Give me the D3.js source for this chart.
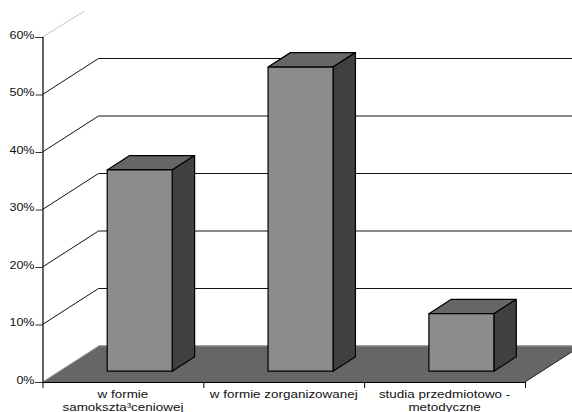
<!DOCTYPE html>
<html>
<head>
<meta charset="utf-8">
<script src="https://cdn.jsdelivr.net/npm/d3@7"></script>
<style>
html,body{margin:0;padding:0;background:#fff;overflow:hidden}
svg{display:block}
text{font-family:"Liberation Sans",Arial,sans-serif;fill:#111}
</style>
</head>
<body>
<svg id="chart" width="572" height="412"></svg>
<script>
const categories = [
  ["w formie", "samokszta\u00b3ceniowej"],
  ["w formie zorganizowanej"],
  ["studia przedmiotowo -", "metodyczne"]
];
const values = [35, 52.9, 10];
const yTicks = [0, 10, 20, 30, 40, 50, 60];
const gridTicks = [10, 20, 30, 40, 50];

const svg = d3.select("#chart");
const x = d3.scaleBand().domain(d3.range(categories.length)).range([42.5, 525]);
const y = d3.scaleLinear().domain([0, 60]).range([382, 37]);
const right = 572;

// Oblique projection: depth 0..1 runs from the front of the floor to the back wall
const depthX = 56, depthY = -36;
const barFront = 0.3, barBack = 0.7, barWidth = 65;
const px = (vx, d) => vx + d * depthX;
const py = (v, d) => y(v) + d * depthY;
const poly = pts => "M" + pts.map(p => p.join(",")).join("L") + "Z";

// Floor, cut off by the right edge of the drawing
const floorEdgeY = py(0, 0) + (right - px(x.range()[1], 0)) * depthY / depthX;
svg.append("path")
  .attr("d", poly([[px(x.range()[0], 0), py(0, 0)], [px(x.range()[0], 1), py(0, 1)],
                   [right, py(0, 1)], [right, floorEdgeY], [px(x.range()[1], 0), py(0, 0)]]))
  .attr("fill", "#666");
svg.append("line")
  .attr("x1", px(x.range()[0], 1)).attr("x2", right)
  .attr("y1", py(0, 1)).attr("y2", py(0, 1))
  .attr("stroke", "#808080").attr("stroke-width", 1.5);
svg.append("line")
  .attr("x1", px(x.range()[0], 0)).attr("y1", py(0, 0))
  .attr("x2", px(x.range()[0], 1)).attr("y2", py(0, 1))
  .attr("stroke", "#aaa");
svg.append("line")
  .attr("x1", px(x.range()[1], 0)).attr("y1", py(0, 0))
  .attr("x2", right).attr("y2", floorEdgeY)
  .attr("stroke", "#222");

// Gridlines on the side and back walls
const grid = svg.append("g").attr("fill", "none").attr("stroke", "#111");
grid.selectAll("path").data(gridTicks).join("path")
  .attr("d", d => `M${px(x.range()[0], 0)},${py(d, 0)}L${px(x.range()[0], 1)},${py(d, 1)}L${right},${py(d, 1)}`);
svg.append("line")
  .attr("x1", px(x.range()[0], 0)).attr("y1", py(60, 0))
  .attr("x2", px(x.range()[0], 0.75)).attr("y2", py(60, 0.72))
  .attr("stroke", "#c4c4c4");

// Bars: front, top and side faces
const bars = svg.append("g").attr("stroke", "#000").attr("stroke-width", 1.2).attr("stroke-linejoin", "round")
  .selectAll("g").data(values).join("g");
const left = (d, i) => x(i) + x.bandwidth() / 2 + barFront * depthX - barWidth / 2;
bars.append("path").attr("fill", "#666").attr("d", (d, i) => {
  const l = left(d, i), dx = (barBack - barFront) * depthX, dy = (barBack - barFront) * depthY, t = py(d, barFront);
  return poly([[l, t], [l + dx, t + dy], [l + barWidth + dx, t + dy], [l + barWidth, t]]);
});
bars.append("path").attr("fill", "#404040").attr("d", (d, i) => {
  const r = left(d, i) + barWidth, dx = (barBack - barFront) * depthX, dy = (barBack - barFront) * depthY;
  const t = py(d, barFront), b = py(0, barFront);
  return poly([[r, t], [r + dx, t + dy], [r + dx, b + dy], [r, b]]);
});
bars.append("path").attr("fill", "#8c8c8c").attr("d", (d, i) => {
  const l = left(d, i), t = py(d, barFront), b = py(0, barFront);
  return poly([[l, t], [l + barWidth, t], [l + barWidth, b], [l, b]]);
});

// Value axis; labels sit slightly above their ticks and run wide
const yAxis = svg.append("g").attr("transform", "translate(42.5,0)")
  .call(d3.axisLeft(y).tickValues(yTicks).tickFormat(d => d + "%").tickSize(7).tickPadding(0));
yAxis.select(".domain").attr("stroke", "#000").attr("stroke-width", 1.2);
yAxis.selectAll(".tick line").attr("stroke", "#333");
yAxis.selectAll("text")
  .attr("font-size", 11)
  .attr("font-family", '"Liberation Sans",Arial,sans-serif')
  .attr("fill", "#111")
  .attr("x", 0).attr("dy", 0)
  .attr("transform", "translate(-8,1) scale(1.14,1)");

// Category axis with ticks on the band boundaries
const edges = d3.range(categories.length + 1).map(i => i < categories.length ? x(i) : x.range()[1]);
const xLine = svg.append("g").attr("transform", `translate(0,${y(0)})`)
  .call(d3.axisBottom(d3.scaleLinear().domain([edges[0], edges[3]]).range([edges[0], edges[3]]))
    .tickValues(edges).tickFormat("").tickSize(6).tickSizeOuter(0));
xLine.select(".domain").attr("stroke", "#000").attr("stroke-width", 1.2);
xLine.selectAll(".tick line").attr("stroke", "#000");

const labels = svg.append("g").attr("font-size", 11.3).attr("text-anchor", "middle")
  .selectAll("text").data(categories).join("text")
  .attr("transform", (d, i) => `translate(${x(i) + x.bandwidth() / 2},398) scale(1.19,1)`);
labels.selectAll("tspan").data(d => d).join("tspan")
  .attr("x", 0).attr("y", (d, i) => i * 13.5).text(d => d);
</script>
</body>
</html>
